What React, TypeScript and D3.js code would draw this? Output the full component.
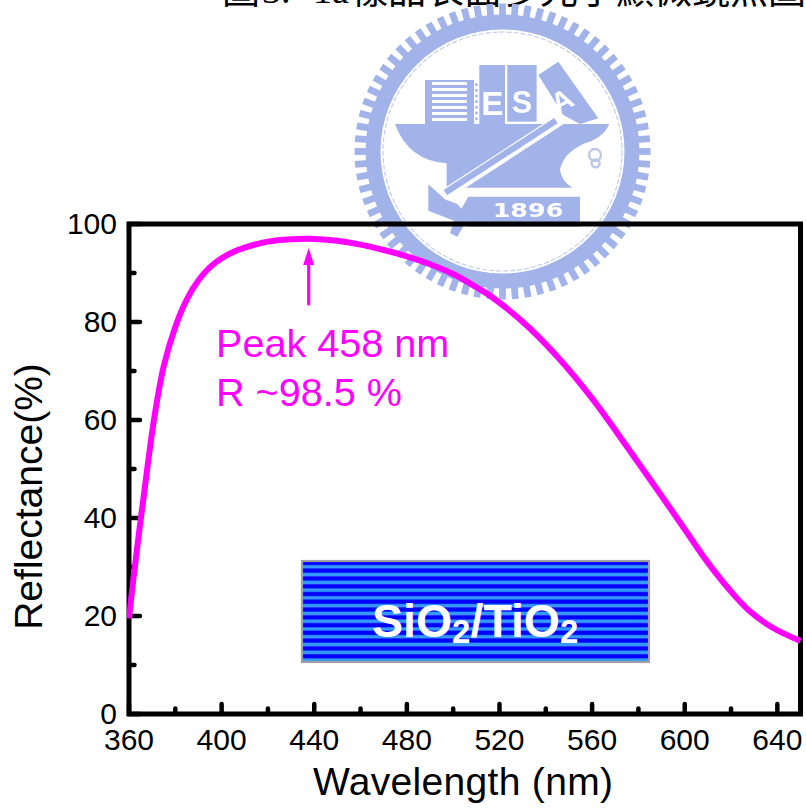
import React from "react";
import * as d3 from "d3";

const wavelengths = [360,362,365,368,371,375,380,385,390,395,400,405,410,420,430,438,450,460,470,480,490,500,510,517,532,546,560,575,589,600,610,620,628,638,650];
const reflectance = [19.5,28,39.5,50.5,60.7,71,79,84.6,88.5,91.2,93,94.3,95.2,96.4,96.9,97,96.6,95.8,94.7,93.4,91.8,89.8,87.1,85,79.2,72.4,64.4,54.6,45.2,37.7,30.9,25,21,17.6,14.9];
const xMajor = [360,400,440,480,520,560,600,640];
const xMinor = [380,420,460,500,540,580,620];
const yMajor = [0,20,40,60,80,100];
const yMinor = [10,30,50,70,90];
const titleHead = "圖";
const titleNum = "3.";
const titleFig = "1a";
const titleRest = "樣品表面多光子顯微鏡照圖";
const peakLines = ["Peak 458 nm", "R ~98.5 %"];
const peakWavelength = 437.6;
const WM = "#a2b3ea";
const ARIAL = "'Liberation Sans', Arial, sans-serif";

const x = d3.scaleLinear().domain([360, 650]).range([129, 800.5]);
const y = d3.scaleLinear().domain([0, 100]).range([714, 224]);

function Watermark() {
  const teeth = d3.range(72).map((i) => (i * 360) / 72);
  return (
    <g filter="url(#soft)">
      <g transform="translate(502.5,151.5)">
        <circle r={129.5} fill="none" stroke={WM} strokeWidth={15} />
        {teeth.map((a) => (
          <rect key={a} x={-3.4} y={-148} width={6.8} height={13} fill={WM} transform={`rotate(${a})`} />
        ))}
        <circle r={119.5} fill="none" stroke="#c3cdec" strokeWidth={1.2} strokeDasharray="5 2" />
      </g>
      <g transform="translate(350,0) scale(0.3333)">
        <path fill={WM} d="M135,372 L778,372 Q762,412 705,430 Q640,458 630,510 Q636,545 667,563 L290,563 L290,490 Q175,482 135,372 Z" />
        <path d="M272,592 L632,358" stroke="#fff" strokeWidth={34} />
        <path d="M286,578 L618,362" stroke={WM} strokeWidth={19} />
        <path fill={WM} d="M235,553 L285,598 L322,612 L356,652 L322,710 L300,700 L312,662 L235,632 Z" />
        <path fill={WM} d="M355,590 L690,590 L690,680 L355,680 L335,625 Z" />
        <text x={428} y={652} fill="#fff" fontFamily="'DejaVu Sans'" fontWeight={700} fontSize={60} textLength={212} lengthAdjust="spacingAndGlyphs">1896</text>
        <rect x={225} y={240} width={150} height={132} fill={WM} />
        {d3.range(7).map((i) => (
          <rect key={i} x={246} y={246 + i * 18} width={105} height={9} fill="#fff" />
        ))}
        <rect x={372} y={240} width={16} height={132} fill="#fff" />
        {d3.range(7).map((i) => (
          <rect key={i} x={376} y={250 + i * 17} width={7} height={8} fill={WM} />
        ))}
        <rect x={388} y={195} width={77} height={177} fill={WM} />
        <text x={427} y={345} textAnchor="middle" fill="#fff" fontFamily={ARIAL} fontWeight={700} fontSize={100}>E</text>
        <rect x={472} y={195} width={88} height={170} fill={WM} />
        <text x={516} y={338} textAnchor="middle" fill="#fff" fontFamily={ARIAL} fontWeight={700} fontSize={92}>S</text>
        <path fill={WM} d="M565,225 L625,185 L745,355 L690,372 L640,345 Z" />
        <text x={0} y={0} transform="translate(650,328) rotate(-28)" textAnchor="middle" fill="#fff" fontFamily={ARIAL} fontWeight={700} fontSize={86}>A</text>
        <circle cx={735} cy={465} r={18} fill="none" stroke="#bcc6e6" strokeWidth={7} />
        <circle cx={737} cy={490} r={12} fill="none" stroke="#bcc6e6" strokeWidth={7} />
      </g>
    </g>
  );
}

export default function App() {
  const line = d3
    .line<number>()
    .x((d) => x(d))
    .y((_, i) => y(reflectance[i]))
    .curve(d3.curveCatmullRom.alpha(0.5));
  const boxY0 = 561;
  const boxH = 101;
  const stripeN = 13;
  const px = x(peakWavelength);
  return (
    <svg width={806} height={808} style={{ position: "absolute", left: 0, top: 0, background: "#fff" }}>
      <defs>
        <clipPath id="plot">
          <rect x={127} y={220} width={674.5} height={500} />
        </clipPath>
        <filter id="soft" x="-5%" y="-5%" width="110%" height="110%">
          <feGaussianBlur stdDeviation={0.6} />
        </filter>
        <linearGradient id="stripe" x1="0" y1="0" x2="0" y2="1">
          <stop offset="0" stopColor="#0000ff" />
          <stop offset="0.42" stopColor="#0000ff" />
          <stop offset="0.6" stopColor="#3399ff" />
          <stop offset="0.88" stopColor="#3399ff" />
          <stop offset="1" stopColor="#0000ff" />
        </linearGradient>
      </defs>
      <g fill="#000" fontSize={38}>
        <text x={222} y={3} fontFamily="'Noto Sans CJK TC'">{titleHead}</text>
        <text x={262} y={3} fontFamily="'Liberation Serif'">{titleNum}</text>
        <text x={313} y={3} fontFamily="'Liberation Serif'">{titleFig}</text>
        <text x={350} y={3} fontFamily="'Noto Sans CJK TC'" textLength={456}>{titleRest}</text>
      </g>
      <Watermark />

      <g fill="none" stroke="#000" strokeLinecap="round">
        {xMajor.map((t) => <line key={t} x1={x(t)} x2={x(t)} y1={714} y2={704} strokeWidth={4.5} />)}
        {xMinor.map((t) => <line key={t} x1={x(t)} x2={x(t)} y1={714} y2={708.5} strokeWidth={4.5} />)}
        {yMajor.map((t) => <line key={t} x1={129} x2={140} y1={y(t)} y2={y(t)} strokeWidth={4.5} />)}
        {yMinor.map((t) => <line key={t} x1={129} x2={134.5} y1={y(t)} y2={y(t)} strokeWidth={4.5} />)}
      </g>
      <rect x={129} y={224} width={671.5} height={490} fill="none" stroke="#000" strokeWidth={5} />

      <g fontFamily={ARIAL} fontSize={30} fill="#000">
        {xMajor.map((t) => <text key={t} x={x(t)} y={750} textAnchor="middle">{t}</text>)}
        {yMajor.map((t) => <text key={t} x={117} y={y(t) + 9.5} textAnchor="end">{t}</text>)}
      </g>
      <text x={463} y={795} textAnchor="middle" fontFamily={ARIAL} fontSize={39} textLength={300} fill="#000">Wavelength (nm)</text>
      <text transform="translate(42,496.5) rotate(-90)" textAnchor="middle" fontFamily={ARIAL} fontSize={39} fill="#000">Reflectance(%)</text>

      <path d={line(wavelengths) ?? ""} fill="none" stroke="#ff00ff" strokeWidth={6} clipPath="url(#plot)" />
      <line x1={px} x2={px} y1={304} y2={262} stroke="#ff00ff" strokeWidth={3.2} strokeLinecap="round" />
      <path d={`M${px},248 L${px + 5.5},265 L${px - 5.5},265 Z`} fill="#ff00ff" />
      <g fontFamily={ARIAL} fontSize={39.6} fill="#ff00ff">
        <text x={216} y={357}>{peakLines[0]}</text>
        <text x={216} y={406}>{peakLines[1]}</text>
      </g>

      {d3.range(stripeN).map((i) => (
        <rect key={i} x={302.5} y={boxY0 + (i * boxH) / stripeN} width={346} height={boxH / stripeN + 0.2} fill="url(#stripe)" />
      ))}
      <rect x={302} y={boxY0} width={347} height={boxH} fill="none" stroke="#a0a0a0" strokeWidth={2.2} />
      <text x={372} y={637} fontFamily={ARIAL} fontWeight={700} fontSize={46.5} fill="#fff">
        SiO<tspan fontSize={33} dy={6}>2</tspan><tspan dy={-6}>/TiO</tspan><tspan fontSize={33} dy={6}>2</tspan>
      </text>
    </svg>
  );
}
